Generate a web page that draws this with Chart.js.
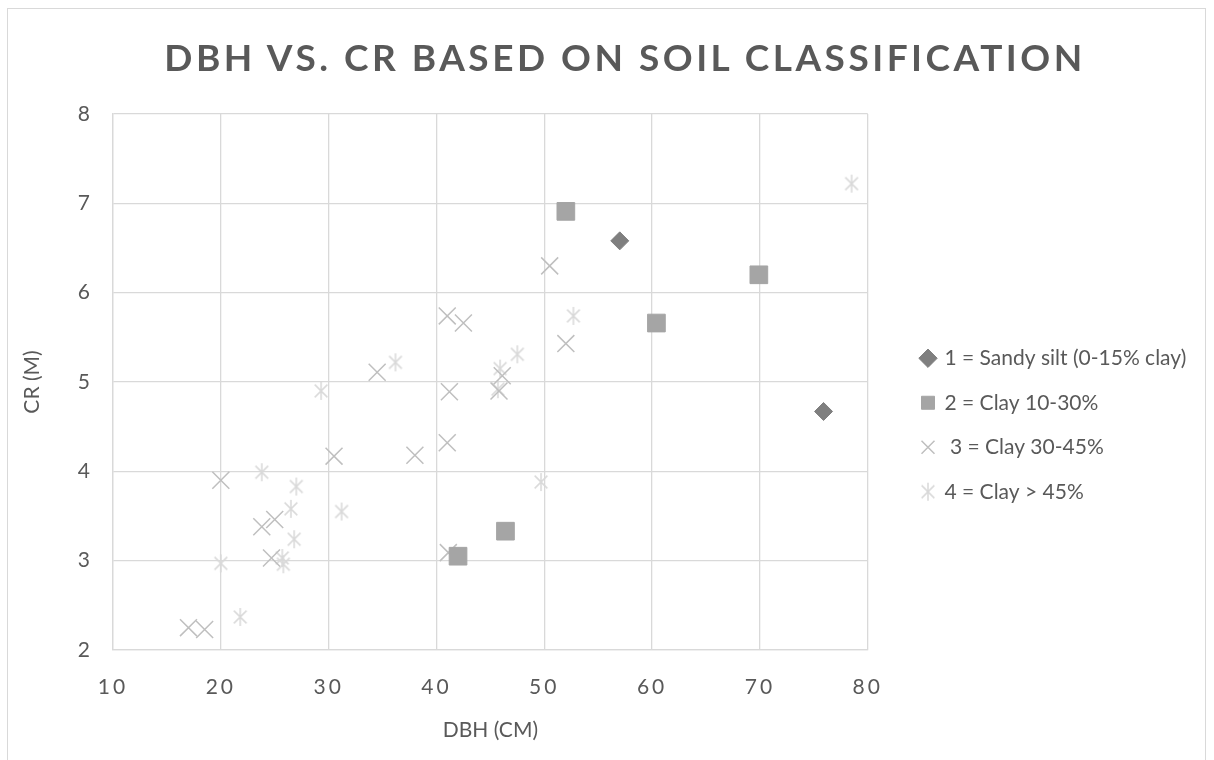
<!DOCTYPE html>
<html>
<head>
<meta charset="utf-8">
<script src="https://cdn.jsdelivr.net/npm/chart.js@4.4.0/dist/chart.umd.min.js"></script>
<style>
  html, body { margin: 0; padding: 0; background: #fff; overflow: hidden; }
  #wrap { position: relative; width: 1214px; height: 760px; }
  #frame { position: absolute; left: 7px; top: 8px; width: 1199px; height: 760px; border: 1px solid #d9d9d9; box-sizing: border-box; }
  #title {
    position: absolute; left: 0; top: 34px; width: 1250px; text-align: center;
    font: bold 37px Lato, sans-serif; letter-spacing: 3.5px; color: #595959; line-height: 46px;
  }
  #chart { position: absolute; left: 0; top: 0; }
</style>
</head>
<body>
<div id="wrap">
  <div id="frame"></div>
  <canvas id="chart" width="1214" height="760"></canvas>
  <div id="title">DBH VS. CR BASED ON SOIL CLASSIFICATION</div>
</div>
<script>
// Series (DBH in cm, CR in m)
const seriesNames = ['1 = Sandy silt (0-15% clay)', '2 = Clay 10-30%', ' 3 = Clay 30-45%', '4 = Clay > 45%'];

const sandyX = [57.0, 75.9];
const sandyY = [6.58, 4.67];

const clay1030X = [52.0, 69.9, 60.4, 46.4, 42.0];
const clay1030Y = [6.91, 6.20, 5.66, 3.33, 3.05];

const clay3045X = [50.5, 41.0, 42.5, 52.0, 34.5, 46.1, 41.2, 45.8, 41.0, 38.0, 30.5, 20.0, 25.0, 23.8, 24.7, 41.1, 17.0, 18.5];
const clay3045Y = [6.30, 5.74, 5.66, 5.43, 5.11, 5.07, 4.89, 4.90, 4.32, 4.18, 4.17, 3.90, 3.46, 3.38, 3.03, 3.09, 2.25, 2.23];

const clay45X = [78.5, 52.7, 47.5, 36.2, 45.9, 45.7, 29.3, 23.8, 49.7, 27.0, 26.5, 31.2, 26.8, 25.7, 25.8, 20.0, 21.8];
const clay45Y = [7.22, 5.74, 5.31, 5.22, 5.15, 4.92, 4.90, 3.99, 3.88, 3.83, 3.58, 3.55, 3.24, 3.03, 2.96, 2.97, 2.37];

const xTicks = [10, 20, 30, 40, 50, 60, 70, 80];
const yTicks = [2, 3, 4, 5, 6, 7, 8];

const pts = (xs, ys) => xs.map((x, i) => ({ x: x, y: ys[i] }));

// asterisk marker: X plus a vertical stroke
function makeStar(size, color) {
  const c = document.createElement('canvas');
  c.width = size; c.height = size;
  const g = c.getContext('2d');
  const m = size / 2, r = size / 2 - 1;
  const d = r * Math.SQRT1_2;
  g.strokeStyle = color;
  g.lineWidth = 1.5;
  g.beginPath();
  g.moveTo(m, m - r); g.lineTo(m, m + r);
  g.moveTo(m - d, m - d); g.lineTo(m + d, m + d);
  g.moveTo(m - d, m + d); g.lineTo(m + d, m - d);
  g.stroke();
  return c;
}
const starBig = makeStar(20, '#d9d9d9');

const textColor = '#595959';
const gridColor = '#d9d9d9';
const legendPad = 23.5;

// put the legend column where it sits in the original, and space the x tick digits
const tweaks = {
  id: 'tweaks',
  afterLayout(chart) {
    const lg = chart.legend;
    if (lg) {
      const w = lg.right - lg.left;
      lg.left = 922 - legendPad; lg.right = lg.left + w;
      lg.top -= 12; lg.bottom -= 12;
    }
  },
  afterUpdate(chart) {
    const s = chart.scales.x;
    if (s && !s._spaced) {
      const orig = s.drawLabels.bind(s);
      s.drawLabels = function (area) {
        chart.ctx.save();
        chart.ctx.letterSpacing = '3px';
        orig(area);
        chart.ctx.restore();
      };
      s._spaced = true;
    }
  }
};

new Chart(document.getElementById('chart'), {
  type: 'scatter',
  data: {
    datasets: [
      {
        label: seriesNames[0], data: pts(sandyX, sandyY),
        pointStyle: 'rectRot', pointRadius: 9, pointHoverRadius: 9,
        backgroundColor: '#7f7f7f', borderColor: '#7f7f7f', borderWidth: 1
      },
      {
        label: seriesNames[1], data: pts(clay1030X, clay1030Y),
        pointStyle: 'rect', pointRadius: 12.5, pointHoverRadius: 12.5,
        backgroundColor: '#a5a5a5', borderColor: '#a5a5a5', borderWidth: 1
      },
      {
        label: seriesNames[2], data: pts(clay3045X, clay3045Y),
        pointStyle: 'crossRot', pointRadius: 12, pointHoverRadius: 12,
        backgroundColor: '#bfbfbf', borderColor: '#bfbfbf', borderWidth: 1.5
      },
      {
        label: seriesNames[3], data: pts(clay45X, clay45Y),
        pointStyle: starBig, pointRadius: 10,
        backgroundColor: '#d9d9d9', borderColor: '#d9d9d9', borderWidth: 1.5
      }
    ]
  },
  options: {
    responsive: false,
    animation: false,
    devicePixelRatio: 1,
    layout: { padding: { top: 114, right: 57, bottom: 0, left: 0 } },
    plugins: {
      title: { display: false },
      tooltip: { enabled: false },
      legend: {
        position: 'right',
        labels: {
          usePointStyle: true,
          boxWidth: 12,
          boxHeight: 13,
          padding: legendPad,
          color: textColor,
          font: { family: 'Lato', size: 21 }
        }
      }
    },
    scales: {
      x: {
        type: 'linear', min: 10, max: 80,
        afterBuildTicks: s => { s.ticks = xTicks.map(v => ({ value: v })); },
        afterFit: s => { s.height = 110; },
        grid: { color: gridColor, lineWidth: 1.3, drawTicks: false },
        border: { color: gridColor, width: 1.3 },
        ticks: { color: textColor, padding: 25, font: { family: 'Lato', size: 21 } },
        title: { display: true, text: 'DBH (CM)', color: textColor, font: { family: 'Lato', size: 21 }, padding: { top: 0, bottom: 17 } }
      },
      y: {
        type: 'linear', min: 2, max: 8,
        afterBuildTicks: s => { s.ticks = yTicks.map(v => ({ value: v })); },
        afterFit: s => { s.width = 113; },
        grid: { color: gridColor, lineWidth: 1.3, drawTicks: false },
        border: { color: gridColor, width: 1.3 },
        ticks: { color: textColor, padding: 23, font: { family: 'Lato', size: 21 } },
        title: { display: true, text: 'CR (M)', color: textColor, font: { family: 'Lato', size: 21 }, padding: { top: 20, bottom: 0 } }
      }
    }
  },
  plugins: [tweaks]
});
</script>
</body>
</html>
